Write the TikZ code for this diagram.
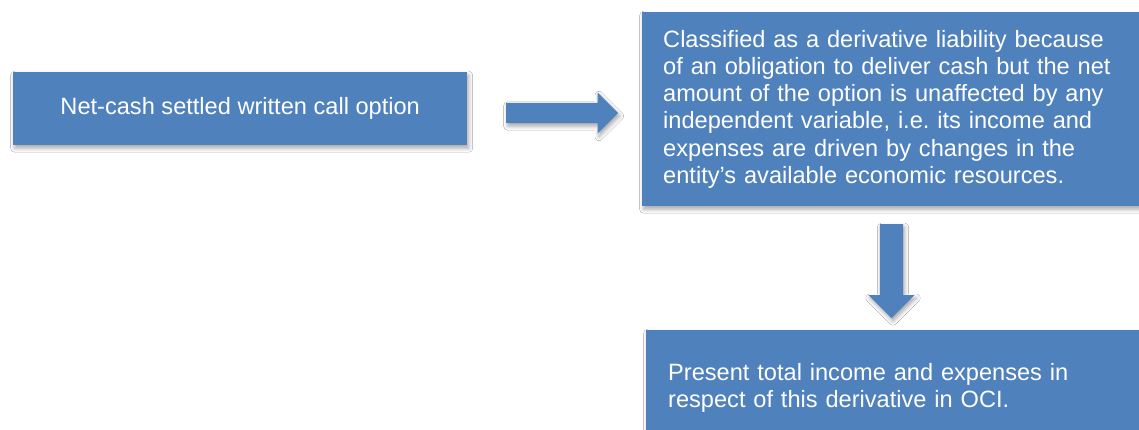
\documentclass[tikz,border=0pt]{standalone}
\usepackage{fontspec}
\setmainfont{Liberation Sans}
\usetikzlibrary{shapes.arrows,shadows.blur}
\definecolor{boxblue}{RGB}{79,129,189}
\frenchspacing
\begin{document}
\begin{tikzpicture}[x=1pt,y=1pt,
  box/.style={draw=none,fill=boxblue,text=white,rectangle,
    font=\fontsize{23.6}{27.2}\selectfont,
    blur shadow={shadow xshift=1.5pt,shadow yshift=-3pt,shadow blur radius=4pt,shadow opacity=35}},
  blockarrow/.style={single arrow,draw=none,fill=boxblue,inner xsep=0pt,
    single arrow head indent=0pt,
    blur shadow={shadow xshift=1.5pt,shadow yshift=-3pt,shadow blur radius=4pt,shadow opacity=35}}]
\useasboundingbox (0,0) rectangle (1139,-430);
\clip (0,0) rectangle (1139,-430);
\fill[white] (0,0) rectangle (1139,-430);
% left box
\node[box,minimum width=454pt,minimum height=73pt,inner sep=0pt,anchor=north west] (a) at (13,-72)
  {Net-cash settled written call option};
% top right box
\node[box,minimum height=194pt,inner xsep=21pt,inner ysep=0pt,text width=476pt,align=left,anchor=north west] (b) at (642,-12)
  {Classified as a derivative liability because\\
   of an obligation to deliver cash but the net\\
   amount of the option is unaffected by any\\
   independent variable, i.e. its income and\\
   expenses are driven by changes in the\\
   entity’s available economic resources.};
% bottom right box
\node[box,minimum height=115pt,inner xsep=22pt,inner ysep=0pt,text width=470pt,align=left,anchor=north west] (c) at (646,-330)
  {Present total income and expenses in\\
   respect of this derivative in OCI.};
% block arrows
\node[blockarrow,inner ysep=10pt,minimum height=112pt,single arrow head extend=10.5pt,anchor=west] (ar1) at (506,-113) {};
\node[blockarrow,rotate=-90,inner ysep=11.5pt,minimum height=94pt,single arrow head extend=11.5pt,anchor=west] (ar2) at (891.5,-224) {};
\end{tikzpicture}
\end{document}
